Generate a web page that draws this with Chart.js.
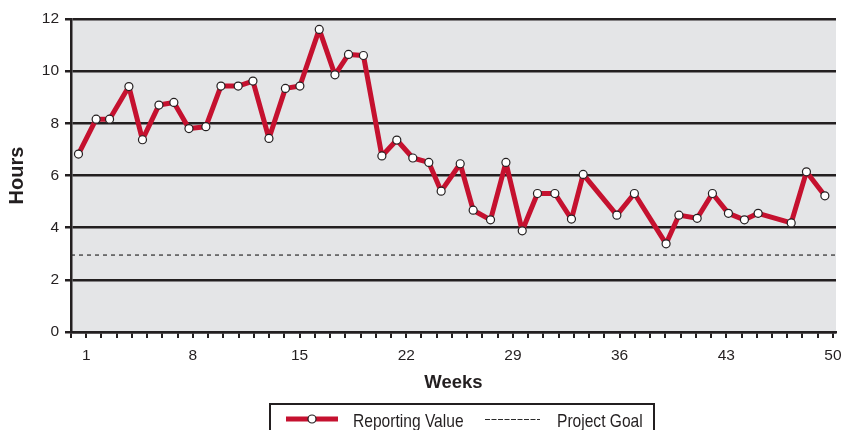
<!DOCTYPE html>
<html>
<head>
<meta charset="utf-8">
<script src="https://cdn.jsdelivr.net/npm/chart.js@4/dist/chart.umd.min.js"></script>
<style>
  html, body { margin: 0; padding: 0; background: #fff; }
  #wrap { width: 843px; height: 430px; }
</style>
</head>
<body>
<div id="wrap"><canvas id="chartLine"></canvas></div>
<script>
// week position of each reading and hours reported
const weeks = [0.49, 1.65, 2.53, 3.80, 4.69, 5.77, 6.75, 7.74, 8.85, 9.84, 10.97, 11.94, 12.99, 14.07, 15.02,
  16.29, 17.32, 18.21, 19.19, 20.40, 21.38, 22.43, 23.48, 24.29, 25.54, 26.39, 27.53, 28.54, 29.61, 30.61,
  31.75, 32.84, 33.61, 35.82, 36.97, 39.05, 39.89, 41.09, 42.09, 43.14, 44.19, 45.09, 47.26, 48.26, 49.47];
const hours = [6.82, 8.16, 8.16, 9.41, 7.37, 8.70, 8.80, 7.80, 7.87, 9.43, 9.43, 9.62, 7.42, 9.34, 9.43,
  11.60, 9.86, 10.64, 10.60, 6.75, 7.36, 6.67, 6.50, 5.40, 6.45, 4.67, 4.30, 6.50, 3.88, 5.31,
  5.31, 4.33, 6.04, 4.48, 5.31, 3.38, 4.48, 4.36, 5.31, 4.55, 4.30, 4.55, 4.18, 6.14, 5.22];
const goal = 2.95;
const xMin = 0, xMax = 50.2;
const xTickLabels = [1, 8, 15, 22, 29, 36, 43, 50];
const yTicks = [0, 2, 4, 6, 8, 10, 12];

const ink = "#231f20";
const red = "#c5112f";
const font = "'Liberation Sans', Arial, sans-serif";

const ctxLine = document.querySelector("#chartLine");

const plotBg = {
  id: "plotBg",
  beforeDraw(chart) {
    const {ctx, chartArea: a} = chart;
    ctx.save();
    ctx.fillStyle = "#e4e5e7";
    ctx.fillRect(a.left, a.top, a.right - a.left, a.bottom - a.top);
    ctx.restore();
  }
};

// boxed legend under the axis title (text squeezed a bit, like a condensed face)
const boxLegend = {
  id: "boxLegend",
  afterDraw(chart) {
    const ctx = chart.ctx;
    const ds = chart.data.datasets;
    const y = 419;
    ctx.save();
    ctx.strokeStyle = ink;
    ctx.lineWidth = 2;
    ctx.strokeRect(270, 404, 384, 40);

    ctx.strokeStyle = ds[0].borderColor;
    ctx.lineWidth = 5;
    ctx.beginPath(); ctx.moveTo(286, y); ctx.lineTo(338, y); ctx.stroke();
    ctx.fillStyle = "#fff";
    ctx.strokeStyle = ink;
    ctx.lineWidth = 1.2;
    ctx.beginPath(); ctx.arc(312, y, 4, 0, Math.PI * 2); ctx.fill(); ctx.stroke();

    ctx.strokeStyle = ds[1].borderColor;
    ctx.lineWidth = 1.2;
    ctx.setLineDash([5, 1.5]);
    ctx.beginPath(); ctx.moveTo(485, y + 0.5); ctx.lineTo(540, y + 0.5); ctx.stroke();
    ctx.setLineDash([]);

    ctx.fillStyle = ink;
    ctx.font = "19px " + font;
    ctx.textBaseline = "alphabetic";
    const sx = 0.82;
    ctx.scale(sx, 1);
    ctx.fillText(ds[0].label, 353 / sx, 426.5);
    ctx.fillText(ds[1].label, 557 / sx, 426.5);
    ctx.restore();
  }
};

new Chart(ctxLine, {
  type: "line",
  data: {
    datasets: [{
      label: "Reporting Value",
      data: weeks.map((w, i) => ({x: w, y: hours[i]})),
      borderColor: red,
      borderWidth: 5,
      borderJoinStyle: "round",
      borderCapStyle: "round",
      pointRadius: 4,
      pointBackgroundColor: "#fff",
      pointBorderColor: ink,
      pointBorderWidth: 1.2,
      tension: 0,
      order: 1
    }, {
      label: "Project Goal",
      data: [{x: xMin, y: goal}, {x: xMax, y: goal}],
      borderColor: "#2a2a2a",
      borderWidth: 1.2,
      borderDash: [4, 4],
      pointRadius: 0,
      order: 2
    }]
  },
  options: {
    responsive: true,
    maintainAspectRatio: false,
    animation: false,
    layout: {padding: {left: 0, right: 7, top: 19, bottom: 30}},
    plugins: {legend: {display: false}, tooltip: {enabled: false}},
    scales: {
      x: {
        type: "linear",
        min: xMin,
        max: xMax,
        afterBuildTicks: s => {
          const t = [];
          for (let v = 0; v <= 50; v++) t.push({value: v});
          s.ticks = t;
        },
        afterFit: s => { s.height = 68; s.paddingRight = 0; s.paddingLeft = 0; },
        grid: {drawOnChartArea: false, drawTicks: true, tickLength: 6, color: ink, lineWidth: 2},
        border: {display: true, color: ink, width: 2.5},
        ticks: {
          autoSkip: false,
          maxRotation: 0,
          padding: 8,
          color: ink,
          font: {family: font, size: 15.5},
          callback: v => xTickLabels.includes(v) ? String(v) : ""
        },
        title: {display: true, text: "Weeks", color: ink, font: {family: font, size: 18.5, weight: "bold"}, padding: {top: 0, bottom: 6}}
      },
      y: {
        min: 0,
        max: 12,
        afterBuildTicks: s => { s.ticks = yTicks.map(v => ({value: v})); },
        afterFit: s => { s.width = 71; },
        grid: {color: ink, lineWidth: 2.5, tickLength: 6},
        border: {display: true, color: ink, width: 2.5},
        ticks: {padding: 6, color: ink, font: {family: font, size: 15.5}},
        title: {display: true, text: "Hours", color: ink, font: {family: font, size: 20, weight: "bold"}, padding: {top: 5, bottom: 0}}
      }
    }
  },
  plugins: [plotBg, boxLegend]
});
</script>
</body>
</html>
